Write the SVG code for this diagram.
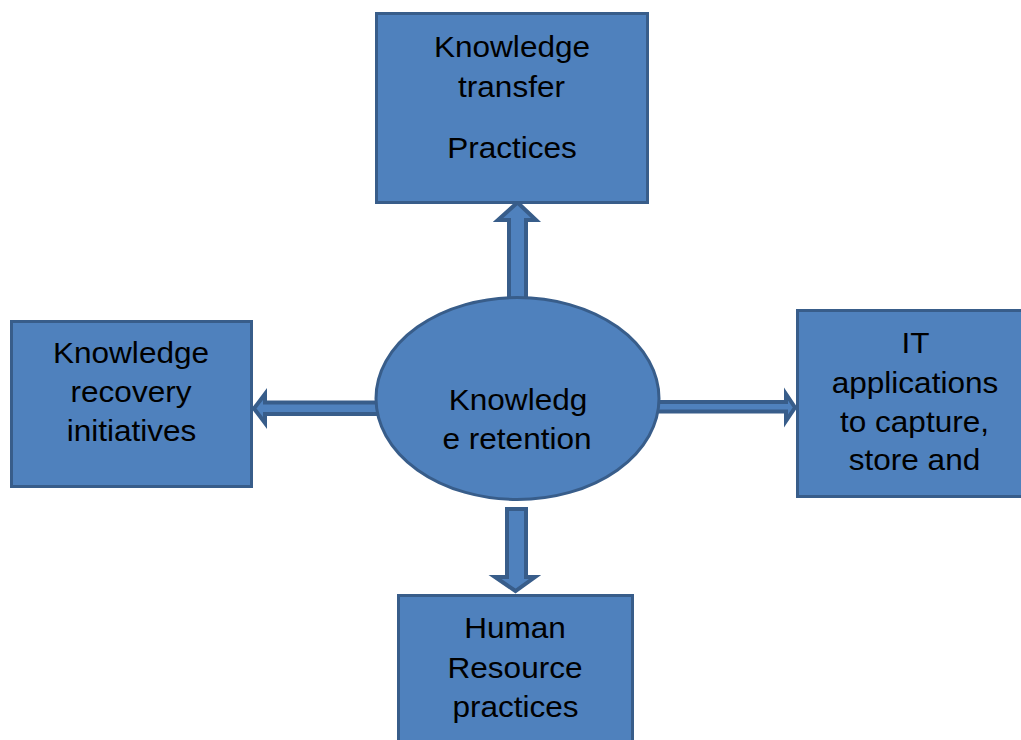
<svg xmlns="http://www.w3.org/2000/svg" width="1021" height="740" viewBox="0 0 1021 740">
  <style>
    .box { fill: #4F81BD; stroke: #385D8A; stroke-width: 3; }
    .arrow { fill: #4F81BD; stroke: #385D8A; stroke-width: 4; stroke-linejoin: miter; }
    .label { font-family: "Liberation Sans", Arial, sans-serif; font-size: 29.5px; fill: #000; text-anchor: middle; }
  </style>
  <rect width="1021" height="740" fill="#ffffff"/>

  <!-- block arrows from the centre ellipse -->
  <g id="connectors">
    <polygon class="arrow" points="509,300 509,220 498,220 517.5,202.5 536,220 526,220 526,300"/>
    <polygon class="arrow" points="378,402.5 265,402.5 265,394 254,408.5 265,423 265,414 378,414"/>
    <polygon class="arrow" points="655,402 786,402 786,394 795,407.5 786,421 786,411.5 655,411.5"/>
    <polygon class="arrow" points="507,509 507,577 495,577 515.5,591 535,577 526,577 526,509"/>
  </g>

  <!-- labels are set in a slightly widened face: matrix(1.07,0,0,1,x,baseline) -->
  <g id="knowledge-retention">
    <ellipse class="box" cx="517.5" cy="398.5" rx="141.5" ry="101"/>
    <text class="label" transform="matrix(1.07,0,0,1,518,410)">Knowledg</text>
    <text class="label" transform="matrix(1.07,0,0,1,517,449)">e retention</text>
  </g>

  <g id="knowledge-transfer">
    <rect class="box" x="376.5" y="13.5" width="271" height="189"/>
    <text class="label" transform="matrix(1.07,0,0,1,512,57)">Knowledge</text>
    <text class="label" transform="matrix(1.07,0,0,1,511.5,97)">transfer</text>
    <text class="label" transform="matrix(1.07,0,0,1,512,158)">Practices</text>
  </g>

  <g id="knowledge-recovery">
    <rect class="box" x="11.5" y="321.5" width="240" height="165"/>
    <text class="label" transform="matrix(1.07,0,0,1,131,363)">Knowledge</text>
    <text class="label" transform="matrix(1.07,0,0,1,131,402)">recovery</text>
    <text class="label" transform="matrix(1.07,0,0,1,131.5,441)">initiatives</text>
  </g>

  <g id="it-applications">
    <rect class="box" x="797.5" y="310.5" width="236" height="186"/>
    <text class="label" transform="matrix(1.07,0,0,1,915.5,353)">IT</text>
    <text class="label" transform="matrix(1.07,0,0,1,915,393)">applications</text>
    <text class="label" transform="matrix(1.07,0,0,1,914.5,432)">to capture,</text>
    <text class="label" transform="matrix(1.07,0,0,1,914.5,470)">store and</text>
  </g>

  <g id="human-resource">
    <rect class="box" x="398.5" y="595.5" width="234" height="160"/>
    <text class="label" transform="matrix(1.07,0,0,1,515,638)">Human</text>
    <text class="label" transform="matrix(1.07,0,0,1,515,678)">Resource</text>
    <text class="label" transform="matrix(1.07,0,0,1,515.5,717)">practices</text>
  </g>
</svg>
